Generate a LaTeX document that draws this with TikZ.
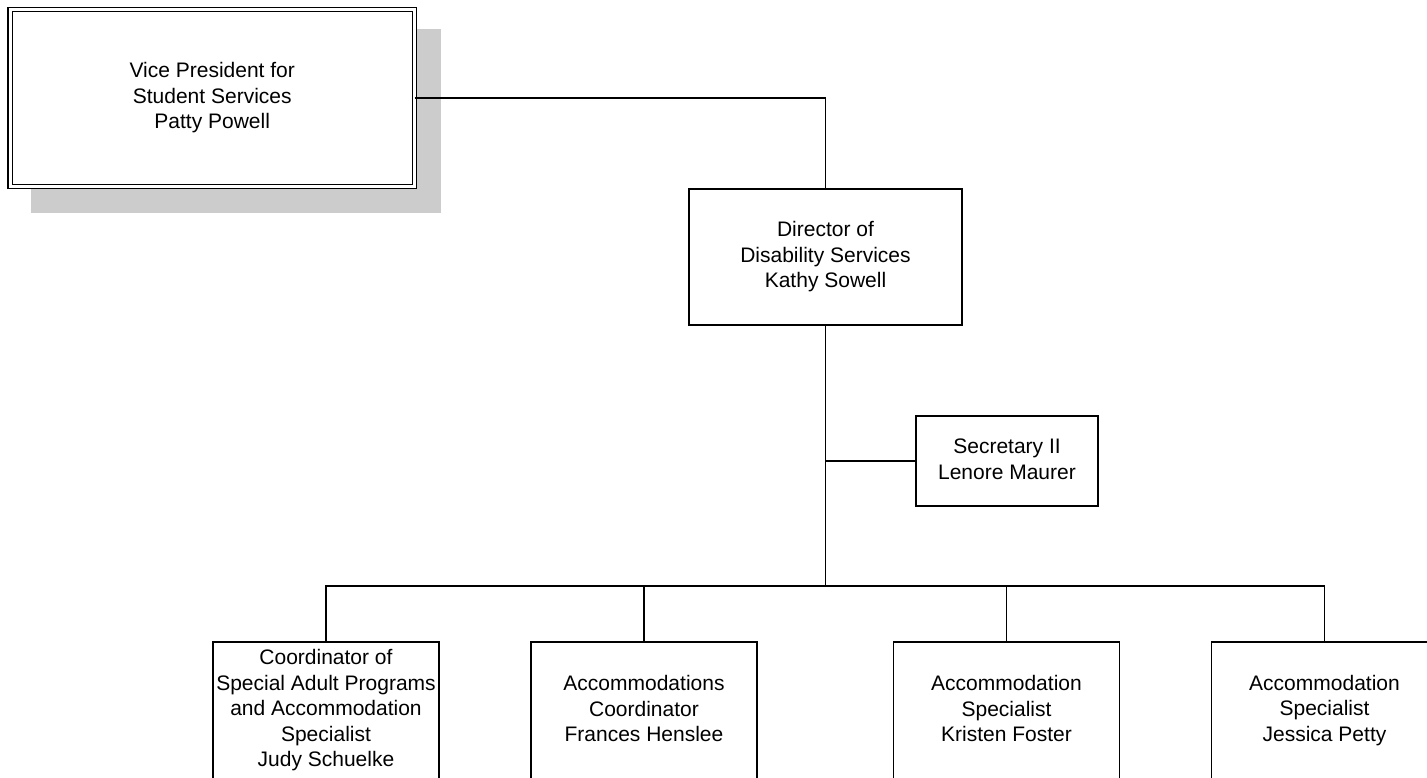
\documentclass[tikz,border=0pt]{standalone}
\usepackage{fontspec}
\setmainfont{Liberation Sans}
\usepackage{tikz}
\usetikzlibrary{positioning, calc, backgrounds}
\definecolor{ShadowGray}{HTML}{CCCCCC}
\newcommand{\orgstrut}{\rule[-4pt]{0pt}{26pt}}

\tikzset{
  orgbox/.style={draw, fill=white, line width=1.5pt, inner sep=0pt, outer sep=0pt,
                 align=center, font=\fontsize{21}{25.5}\selectfont,
                 execute at begin node=\orgstrut, execute at end node=\orgstrut},
  topbox/.style={orgbox, line width=1.1pt, double, double distance=3pt},
  link/.style={line width=1.5pt}
}

\begin{document}
\begin{tikzpicture}[x=1pt, y=-1pt]
      \useasboundingbox (0,0) rectangle (1427,777);
      \clip (0,0) rectangle (1427,777);
      %% Top of the chart
      \node[topbox, minimum width=404.5pt, minimum height=177pt] (vp) at (212.25,98)
           {Vice President for\\Student Services\\Patty Powell};
      \begin{scope}[on background layer]
        \fill[ShadowGray] ([xshift=21pt,yshift=-19.5pt]vp.north west)
                          rectangle ([xshift=26.5pt,yshift=-26pt]vp.south east);
      \end{scope}
      \node[orgbox, minimum width=273pt, minimum height=136pt] (dir) at (825.5,257)
           {Director of\\Disability Services\\Kathy Sowell};
      \node[orgbox, minimum width=182pt, minimum height=90pt] (sec) at (1007,461)
           {Secretary II\\Lenore Maurer};
      %% Staff row
      \node[orgbox, minimum width=226pt, minimum height=137pt] (coord) at (326,710.5)
           {Coordinator of\\Special Adult Programs\\and Accommodation\\Specialist\\Judy Schuelke};
      \node[orgbox, minimum width=226pt, minimum height=137pt] (acoord) at (644,710.5)
           {Accommodations\\Coordinator\\Frances Henslee};
      \node[orgbox, minimum width=226pt, minimum height=137pt] (specA) at (1006.5,710.5)
           {Accommodation\\Specialist\\Kristen Foster};
      \node[orgbox, minimum width=226pt, minimum height=137pt] (specB) at (1324.5,710.5)
           {Accommodation\\Specialist\\Jessica Petty};
      \coordinate (hub) at (825.5,586);
      %% Connectors
      \draw[link] (vp.east) -| (dir.north);
      \draw[link] (dir.south) -- (hub);
      \draw[link] (sec.west) -- (sec.west -| dir.south);
      \draw[link] (coord.north) |- (hub) -| (specB.north);
      \draw[link] (acoord.north) -- (acoord.north |- hub);
      \draw[link] (specA.north) -- (specA.north |- hub);
    \end{tikzpicture}
\end{document}
